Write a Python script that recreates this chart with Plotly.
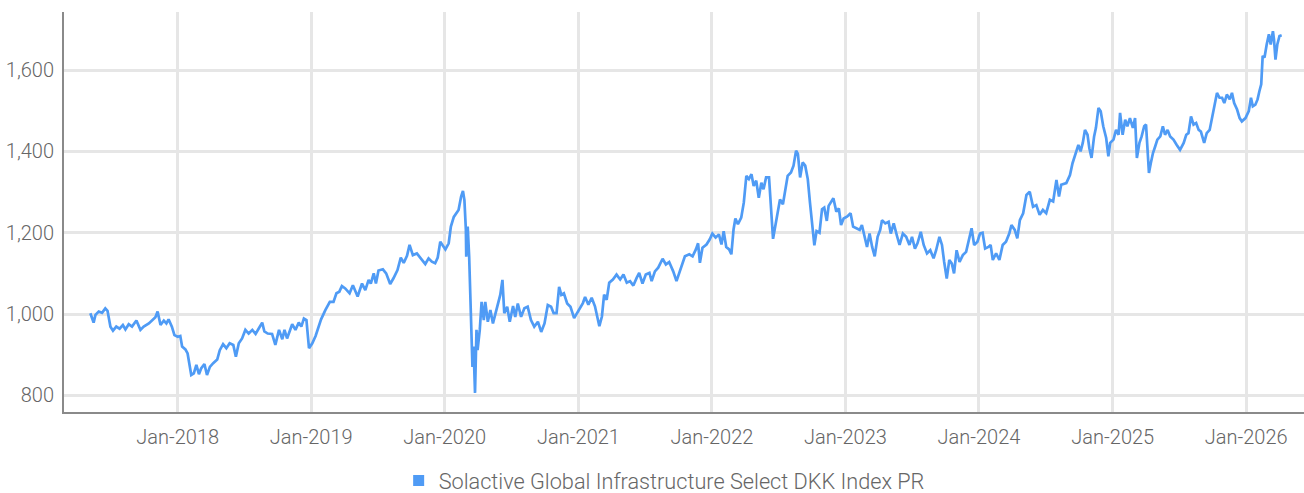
import plotly.graph_objects as go

dates = [
"2017-05-07","2017-05-16","2017-05-21","2017-05-30","2017-06-08","2017-06-17","2017-06-23","2017-07-01","2017-07-08","2017-07-17",
"2017-07-26","2017-08-04","2017-08-11","2017-08-20","2017-08-29","2017-09-10","2017-09-21","2017-09-30","2017-10-14","2017-10-25",
"2017-11-01","2017-11-07","2017-11-15","2017-11-24","2017-12-01","2017-12-07","2017-12-16","2017-12-23","2018-01-01","2018-01-08",
"2018-01-13","2018-01-22","2018-01-28","2018-02-07","2018-02-14","2018-02-21","2018-02-28","2018-03-06","2018-03-15","2018-03-22",
"2018-03-30","2018-04-08","2018-04-19","2018-04-26","2018-05-05","2018-05-14","2018-05-23","2018-06-02","2018-06-09","2018-06-17",
"2018-06-26","2018-07-05","2018-07-14","2018-07-24","2018-08-02","2018-08-11","2018-08-20","2018-08-26","2018-09-04","2018-09-16",
"2018-09-25","2018-10-05","2018-10-14","2018-10-20","2018-10-27","2018-11-10","2018-11-19","2018-11-28","2018-12-05","2018-12-12",
"2018-12-19","2018-12-26","2019-01-04","2019-01-13","2019-01-19","2019-01-28","2019-02-09","2019-02-21",
"2019-03-03","2019-03-11","2019-03-19","2019-03-26","2019-04-04","2019-04-16","2019-04-25","2019-05-08","2019-05-20","2019-05-29",
"2019-06-07","2019-06-13","2019-06-21","2019-06-27","2019-07-04","2019-07-16","2019-07-25","2019-08-05","2019-08-14","2019-08-25",
"2019-09-03","2019-09-11","2019-09-20","2019-09-27","2019-10-06","2019-10-17","2019-10-26","2019-11-09","2019-11-18","2019-11-27",
"2019-12-06","2019-12-13","2019-12-20","2020-01-03","2020-01-12","2020-01-18","2020-01-26","2020-02-02","2020-02-08","2020-02-15",
"2020-02-20","2020-02-24","2020-02-28","2020-02-29","2020-03-04","2020-03-08","2020-03-11","2020-03-15","2020-03-17","2020-03-20",
"2020-03-24","2020-03-28","2020-03-31","2020-04-06","2020-04-11","2020-04-17","2020-04-21","2020-04-28","2020-05-05","2020-05-12",
"2020-05-19","2020-05-25","2020-06-01","2020-06-07","2020-06-12","2020-06-20","2020-06-27","2020-07-06","2020-07-12","2020-07-19",
"2020-07-28","2020-08-06","2020-08-15","2020-08-24","2020-09-02","2020-09-12","2020-09-21","2020-09-30","2020-10-09","2020-10-18",
"2020-10-25","2020-11-02","2020-11-09","2020-11-15","2020-11-22","2020-12-01","2020-12-10","2020-12-20",
"2021-01-01","2021-01-13","2021-01-19","2021-01-28","2021-02-06","2021-02-15","2021-02-27","2021-03-06","2021-03-12","2021-03-19",
"2021-03-26","2021-04-05","2021-04-15","2021-04-25","2021-05-04","2021-05-13","2021-05-22","2021-05-31","2021-06-09","2021-06-16",
"2021-06-25","2021-07-04","2021-07-14","2021-07-20","2021-07-29","2021-08-07","2021-08-19","2021-08-28","2021-09-06","2021-09-17",
"2021-09-26","2021-10-05","2021-10-19","2021-10-31","2021-11-09","2021-11-18","2021-11-24","2021-11-29","2021-12-06","2021-12-17",
"2021-12-26","2022-01-02","2022-01-11","2022-01-20","2022-01-27","2022-02-02","2022-02-09","2022-02-17","2022-02-23","2022-03-01",
"2022-03-06","2022-03-13","2022-03-22","2022-03-29","2022-04-05","2022-04-12","2022-04-19","2022-04-25","2022-05-02","2022-05-09",
"2022-05-16","2022-05-22","2022-05-29","2022-06-06","2022-06-10","2022-06-17","2022-06-24","2022-06-30","2022-07-06","2022-07-14",
"2022-07-21","2022-07-27","2022-08-05","2022-08-12","2022-08-19","2022-08-24","2022-08-30","2022-09-06","2022-09-13","2022-09-20",
"2022-09-26","2022-10-02","2022-10-08","2022-10-14","2022-10-22","2022-10-29","2022-11-04","2022-11-11","2022-11-16",
"2022-11-29","2022-12-07","2022-12-14","2022-12-20","2022-12-27","2023-01-06","2023-01-15","2023-01-22","2023-01-31","2023-02-09",
"2023-02-15","2023-02-20","2023-03-01","2023-03-08","2023-03-15","2023-03-22","2023-03-30","2023-04-06","2023-04-11","2023-04-20",
"2023-04-29","2023-05-05","2023-05-13","2023-05-22","2023-05-29","2023-06-07","2023-06-16","2023-06-25","2023-07-02","2023-07-10",
"2023-07-17","2023-07-26","2023-08-03","2023-08-12","2023-08-21","2023-08-30","2023-09-06","2023-09-15","2023-09-22","2023-09-28",
"2023-10-05","2023-10-12","2023-10-19","2023-10-25","2023-11-01","2023-11-09","2023-11-18","2023-11-27","2023-12-03","2023-12-12",
"2023-12-19","2023-12-28","2024-01-04","2024-01-11","2024-01-18","2024-01-27","2024-02-02","2024-02-08","2024-02-17","2024-02-26",
"2024-03-06","2024-03-15","2024-03-24","2024-03-30","2024-04-08","2024-04-15","2024-04-22","2024-05-01","2024-05-10","2024-05-19",
"2024-05-28","2024-06-06","2024-06-15","2024-06-24","2024-07-03","2024-07-13","2024-07-22","2024-07-31","2024-08-07","2024-08-13",
"2024-08-27","2024-09-06","2024-09-13","2024-09-23","2024-09-29","2024-10-05","2024-10-11","2024-10-17","2024-10-24","2024-10-29",
"2024-11-04","2024-11-11","2024-11-16","2024-11-23","2024-11-29","2024-12-06","2024-12-14","2024-12-20","2024-12-25","2025-01-03",
"2025-01-10","2025-01-17","2025-01-21","2025-01-28","2025-02-04","2025-02-10","2025-02-17","2025-02-25","2025-03-03","2025-03-08",
"2025-03-15","2025-03-21","2025-03-28","2025-04-02","2025-04-06","2025-04-10","2025-04-15","2025-04-21","2025-04-27","2025-05-03",
"2025-05-11","2025-05-18","2025-05-24","2025-05-31","2025-06-07","2025-06-16","2025-06-25","2025-07-04","2025-07-14","2025-07-21",
"2025-07-27","2025-08-03","2025-08-10","2025-08-17","2025-08-24","2025-08-30","2025-09-08","2025-09-15","2025-09-23","2025-09-29",
"2025-10-05","2025-10-13","2025-10-20","2025-10-27","2025-11-02","2025-11-09","2025-11-17","2025-11-23","2025-11-29","2025-12-07",
"2025-12-14","2025-12-20","2025-12-30","2026-01-08","2026-01-14","2026-01-19","2026-01-26","2026-02-01","2026-02-06","2026-02-11",
"2026-02-15","2026-02-20","2026-02-26","2026-03-04","2026-03-09","2026-03-15","2026-03-18","2026-03-22","2026-03-27","2026-04-02",
"2026-04-08",
]

values = [
1002,979,998,1006,1003,1014,1008,969,959,969,
964,973,962,975,969,984,961,969,977,987,
992,1006,973,984,977,987,969,948,944,946,
920,913,903,850,854,875,852,866,877,850,
870,879,888,911,926,916,928,924,895,928,
940,961,952,961,951,965,979,957,952,951,
924,961,938,961,940,975,961,979,969,989,
985,916,928,946,961,987,1010,1030,
1030,1051,1055,1069,1063,1051,1071,1043,1075,1059,
1084,1075,1100,1075,1107,1110,1100,1074,1088,1108,
1139,1126,1143,1170,1145,1149,1139,1123,1137,1129,
1125,1139,1178,1159,1174,1215,1239,1248,1256,1289,
1303,1280,1207,1141,1215,1141,1043,944,870,920,
806,961,911,961,1030,985,1030,981,1010,977,
1002,1026,1047,1084,1002,1018,981,1020,993,1026,
993,1014,1018,985,969,981,956,977,1022,1018,
1002,1002,1067,1047,1051,1026,1018,990,
1007,1027,1042,1023,1040,1019,970,994,1048,1035,
1077,1085,1097,1085,1097,1077,1081,1070,1089,1101,
1075,1097,1101,1081,1105,1114,1136,1122,1128,1105,
1081,1105,1142,1147,1142,1159,1174,1126,1163,1171,
1184,1198,1188,1196,1171,1204,1165,1159,1147,1208,
1235,1221,1237,1274,1340,1332,1344,1315,1328,1286,
1323,1307,1336,1336,1282,1185,1221,1253,1282,1270,
1307,1340,1348,1365,1402,1394,1336,1373,1365,1332,
1274,1212,1169,1204,1200,1258,1262,1229,1266,
1285,1252,1260,1219,1235,1240,1248,1215,1211,1207,
1219,1198,1165,1198,1165,1142,1190,1207,1231,1223,
1227,1198,1223,1192,1170,1198,1190,1170,1190,1161,
1174,1202,1170,1149,1157,1137,1157,1190,1170,1128,
1087,1133,1124,1100,1157,1128,1145,1153,1178,1211,
1170,1178,1198,1200,1161,1165,1170,1133,1149,1133,
1170,1178,1198,1219,1207,1186,1231,1248,1293,1301,
1264,1268,1244,1256,1248,1281,1277,1330,1289,1318,
1322,1342,1371,1396,1416,1400,1421,1453,1441,1408,
1384,1437,1458,1507,1499,1462,1433,1388,1421,1429,
1453,1441,1495,1441,1478,1462,1482,1458,1482,1384,
1421,1437,1462,1466,1396,1347,1371,1396,1412,1429,
1437,1462,1441,1453,1437,1429,1416,1404,1421,1441,
1445,1486,1466,1470,1453,1449,1421,1445,1453,1478,
1503,1544,1532,1532,1519,1540,1528,1544,1519,1503,
1482,1474,1482,1499,1532,1511,1515,1528,1548,1565,
1635,1631,1663,1688,1663,1696,1675,1626,1663,1684,
1686,
]

series_name = "Solactive Global Infrastructure Select DKK Index PR"
x_ticks = ["2018-01-01","2019-01-01","2020-01-01","2021-01-01","2022-01-01",
           "2023-01-01","2024-01-01","2025-01-01","2026-01-01"]
x_tick_labels = ["Jan-2018","Jan-2019","Jan-2020","Jan-2021","Jan-2022",
                 "Jan-2023","Jan-2024","Jan-2025","Jan-2026"]
y_ticks = [800, 1000, 1200, 1400, 1600]

LINE = "#4f9bf5"
FONT = "Roboto, sans-serif"
TXT = "#666666"

fig = go.Figure()
fig.add_trace(go.Scatter(x=dates, y=values, mode="lines",
                         line=dict(color=LINE, width=2.7),
                         showlegend=False, name=series_name))
fig.add_trace(go.Scatter(x=[None], y=[None], mode="markers",
                         marker=dict(symbol="square", size=11, color=LINE),
                         name=series_name, showlegend=True))

tf = dict(family=FONT, size=20, color=TXT, weight=300)

fig.update_layout(
    width=1304, height=493,
    margin=dict(l=64, r=0, t=12, b=81, autoexpand=False),
    paper_bgcolor="white", plot_bgcolor="white",
    font=dict(family=FONT, color=TXT, size=20, weight=300),
    legend=dict(orientation="h", x=0.484, xanchor="center", y=-0.172, yanchor="middle",
                font=dict(family=FONT, size=21.7, color=TXT, weight=300),
                itemwidth=30, tracegroupgap=0),
    xaxis=dict(range=["2017-02-24", "2026-06-08"], tickvals=x_ticks, ticktext=x_tick_labels,
               showgrid=True, gridcolor="#e6e6e6", gridwidth=2.5,
               showline=True, linecolor="#8a8a8a", linewidth=2,
               ticks="outside", ticklen=6, tickcolor="rgba(0,0,0,0)",
               tickfont=tf, zeroline=False, automargin=False),
    yaxis=dict(range=[759, 1743], tickvals=y_ticks, tickformat=",d",
               showgrid=True, gridcolor="#e6e6e6", gridwidth=2.5,
               showline=True, linecolor="#8a8a8a", linewidth=2,
               ticks="outside", ticklen=4, tickcolor="rgba(0,0,0,0)",
               tickfont=tf, zeroline=False, automargin=False),
)

fig.write_html("out.html", config={"displayModeBar": False},
               post_script="document.body.style.margin='0';")
